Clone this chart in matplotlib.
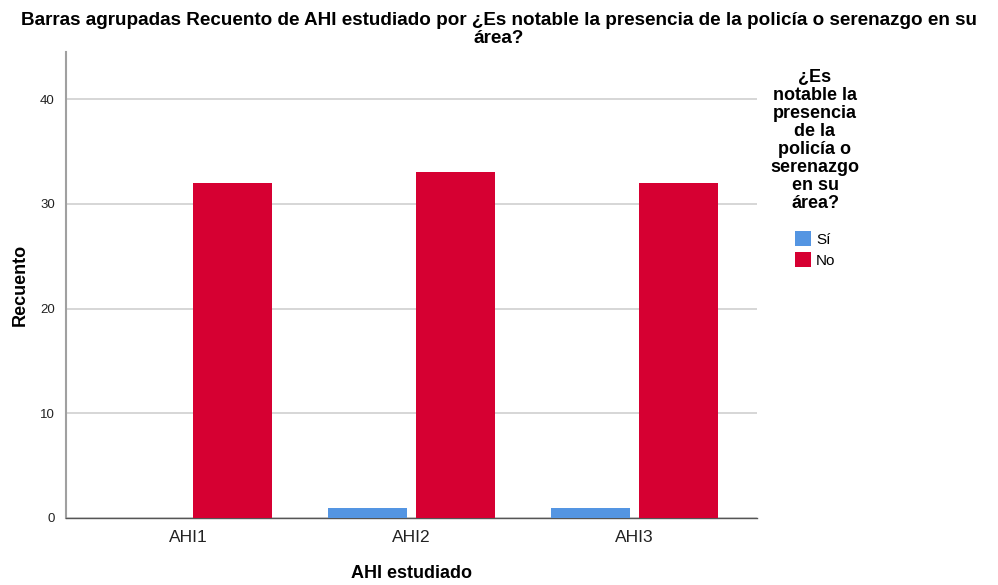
import numpy as np
import matplotlib.pyplot as plt
from matplotlib.patches import Patch

plt.rcParams['font.family'] = ['Liberation Sans', 'DejaVu Sans']

# data
categories = ["AHI1", "AHI2", "AHI3"]
si_counts = [0, 1, 1]
no_counts = [32, 33, 32]
series_labels = ["Sí", "No"]
colors = ["#5495E2", "#D60032"]

fig = plt.figure(figsize=(9.98, 5.85), dpi=100)
ax = fig.add_axes([66 / 998, 1 - 518 / 585, (757 - 66) / 998, (518 - 52) / 585])

x = np.arange(len(categories))
w = 0.354
off = 0.197
ax.bar(x - off, si_counts, w, color=colors[0], zorder=3)
ax.bar(x + off, no_counts, w, color=colors[1], zorder=3)

ax.set_xlim(-0.55, 2.55)
ax.set_ylim(0, 44.5)
ax.set_xticks(x)
ax.set_xticklabels(categories, fontsize=12.5, color="#222222")
ax.set_yticks([0, 10, 20, 30, 40])
ax.tick_params(axis="y", labelsize=9.5, length=0, pad=8, colors="#222222")
ax.tick_params(axis="x", length=0, pad=9)
ax.yaxis.grid(True, color="#cfcfcf", lw=1.2, zorder=0)
ax.set_axisbelow(True)

for s in ["top", "right"]:
    ax.spines[s].set_visible(False)
ax.spines["left"].set_color("#a0a0a0")
ax.spines["left"].set_linewidth(1.5)
ax.spines["bottom"].set_color("#555555")
ax.spines["bottom"].set_linewidth(1.0)

ax.set_ylabel("Recuento", fontsize=13, fontweight="bold", labelpad=8)
ax.set_xlabel("AHI estudiado", fontsize=13, fontweight="bold", labelpad=14)

fig.suptitle("Barras agrupadas Recuento de AHI estudiado por ¿Es notable la presencia de la policía o serenazgo en su\nárea?",
             fontsize=13.6, fontweight="bold", y=0.979, linespacing=1.05)

handles = [Patch(facecolor=c, label=l) for c, l in zip(colors, series_labels)]
leg = fig.legend(handles=handles, loc="upper center", bbox_to_anchor=(815 / 998, 1 - 58 / 585),
                 title="¿Es\nnotable la\npresencia\nde la\npolicía o\nserenazgo\nen su\nárea?",
                 frameon=False, fontsize=11, handlelength=1.1, handleheight=1.1,
                 handletextpad=0.3, labelspacing=0.35, borderpad=0.2)
leg.get_title().set_fontweight("bold")
leg.get_title().set_fontsize(13)
leg.get_title().set_multialignment("center")
leg.get_title().set_linespacing(1.08)
leg._legend_box.sep = 14

fig.savefig("out.png", dpi=100)
